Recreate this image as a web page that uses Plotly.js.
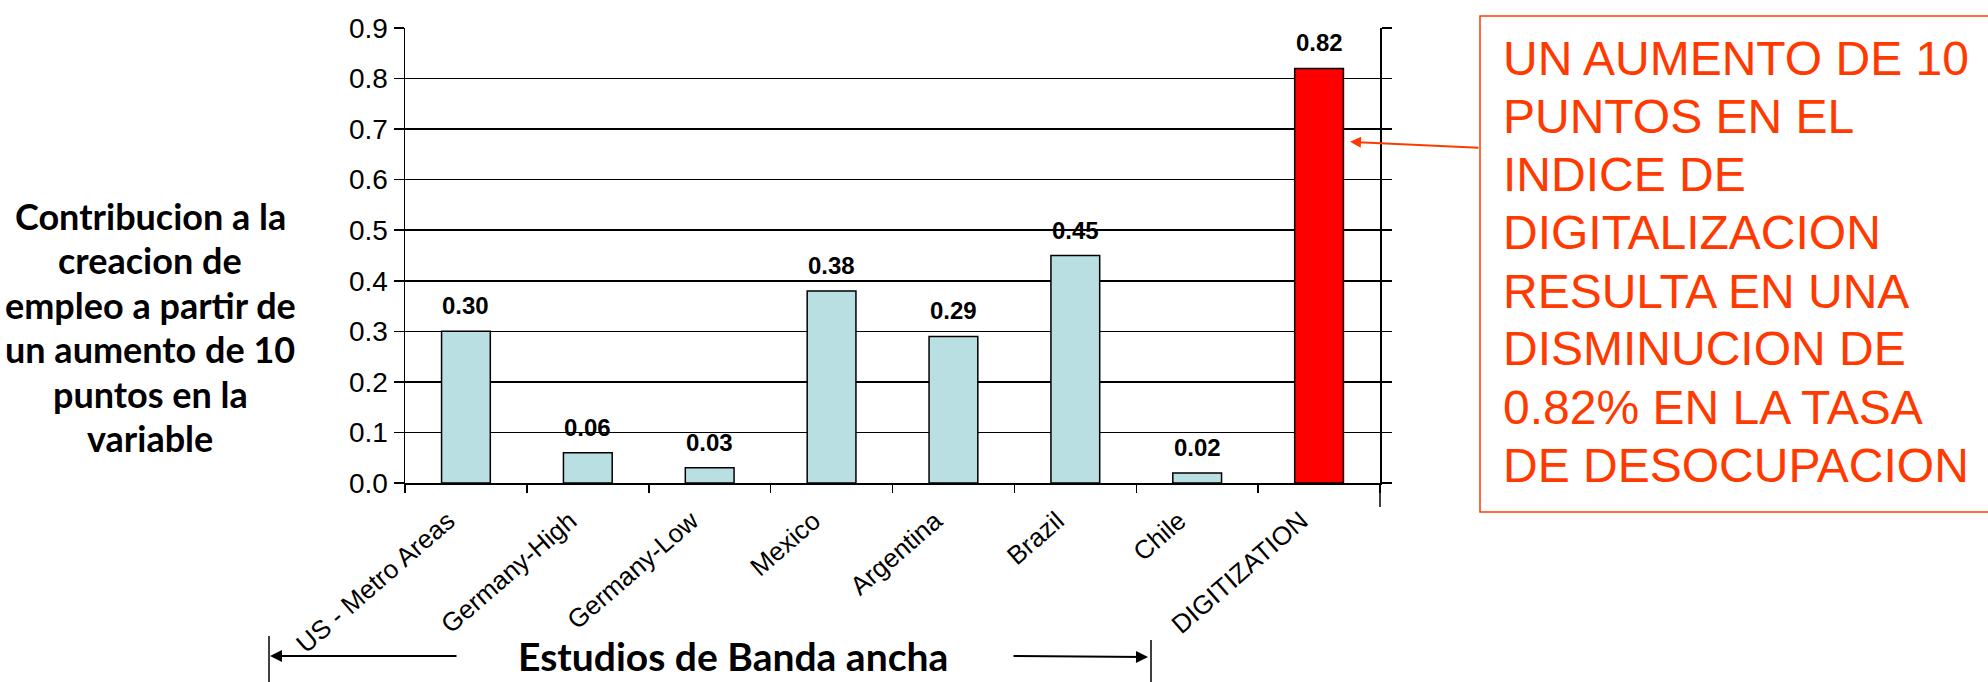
<!DOCTYPE html>
<html>
<head>
<meta charset="utf-8">
<script src="https://cdn.plot.ly/plotly-3.0.1.min.js"></script>
<style>html,body{margin:0;padding:0;background:#fff;}#chart{width:1988px;height:682px;}</style>
</head>
<body>
<div id="chart"></div>
<script>
const categories = ["US - Metro Areas", "Germany-High", "Germany-Low", "Mexico", "Argentina", "Brazil", "Chile", "DIGITIZATION"];
const values = [0.30, 0.06, 0.03, 0.38, 0.29, 0.45, 0.02, 0.82];
const barColors = ["#B9DFE2", "#B9DFE2", "#B9DFE2", "#B9DFE2", "#B9DFE2", "#B9DFE2", "#B9DFE2", "#FF0000"];
const yTitleLines = ["Contribucion a la", "creacion de", "empleo a partir de", "un aumento de 10", "puntos en la", "variable"];
const xTitle = "Estudios de Banda ancha";
const calloutLines = ["UN AUMENTO DE 10", "PUNTOS EN EL", "INDICE DE", "DIGITALIZACION", "RESULTA EN UNA", "DISMINUCION DE", "0.82% EN LA TASA", "DE DESOCUPACION"];

const chartFont = "'Liberation Sans', Arial, sans-serif";
const slideFont = "Lato, 'Open Sans', sans-serif";
const orange = "#FF3A00";

// plot area in pixels (for converting slide-level positions to paper coords)
const PL = 405, PR = 1380, PT = 28, PB = 483;
const px = v => (v - PL) / (PR - PL);
const py = v => (PB - v) / (PB - PT);

const trace = {
  type: "bar",
  x: categories,
  y: values,
  marker: { color: barColors, line: { color: "#000", width: 1.5 } },
  hoverinfo: "skip"
};

const valueLabels = categories.map((c, i) => ({
  x: c, y: values[i], xref: "x", yref: "y",
  text: "<b>" + values[i].toFixed(2) + "</b>",
  showarrow: false, yanchor: "bottom", yshift: 10,
  font: { family: chartFont, size: 24, color: "#000" }
}));

const yTitle = yTitleLines.map((t, i) => ({
  xref: "paper", yref: "paper", x: px(150), y: py(216 + i * 44.4),
  xanchor: "center", yanchor: "middle", text: "<b>" + t + "</b>", showarrow: false,
  font: { family: slideFont, size: 36, color: "#000" }
}));

const callout = calloutLines.map((t, i) => ({
  xref: "paper", yref: "paper", x: px(1501), y: py(59 + i * 58),
  xanchor: "left", yanchor: "middle", text: t, showarrow: false,
  font: { family: chartFont, size: 48, color: orange }
}));

const annotations = valueLabels.concat(yTitle, callout, [
  { xref: "paper", yref: "paper", x: px(733), y: py(656), xanchor: "center", yanchor: "middle",
    text: "<b>" + xTitle + "</b>", showarrow: false,
    font: { family: slideFont, size: 39, color: "#000" } },
  { xref: "paper", yref: "paper", x: px(270), y: py(656), text: "", showarrow: true,
    axref: "pixel", ayref: "pixel", ax: 188, ay: 0, arrowhead: 2, arrowsize: 1.2, arrowwidth: 2, arrowcolor: "#000" },
  { xref: "paper", yref: "paper", x: px(1148), y: py(657), text: "", showarrow: true,
    axref: "pixel", ayref: "pixel", ax: -136, ay: -1, arrowhead: 2, arrowsize: 1.2, arrowwidth: 2, arrowcolor: "#000" },
  { xref: "paper", yref: "y", x: px(1350), y: 0.675, text: "", showarrow: true,
    axref: "pixel", ayref: "pixel", ax: 130, ay: 6, arrowhead: 2, arrowsize: 1.1, arrowwidth: 2, arrowcolor: orange }
]);

const shapes = [
  { type: "line", xref: "paper", yref: "paper", x0: 1, x1: 1, y0: py(507), y1: 0, line: { color: "#000", width: 1.5 } },
  { type: "line", xref: "paper", yref: "paper", x0: px(269), x1: px(269), y0: py(636), y1: py(684), line: { color: "#000", width: 1.5 } },
  { type: "line", xref: "paper", yref: "paper", x0: px(1151), x1: px(1151), y0: py(640), y1: py(684), line: { color: "#000", width: 1.5 } },
  { type: "rect", xref: "paper", yref: "paper", x0: px(1480), x1: px(2100), y0: py(512), y1: py(16), line: { color: orange, width: 1.5 }, fillcolor: "rgba(0,0,0,0)" }
];

const layout = {
  width: 1988, height: 682,
  margin: { l: PL, r: 1988 - PR, t: PT, b: 682 - PB, pad: 0 },
  paper_bgcolor: "#fff", plot_bgcolor: "#fff",
  showlegend: false,
  bargap: 0.6,
  font: { family: chartFont, color: "#000" },
  xaxis: {
    type: "category", tickangle: -41, tickson: "boundaries",
    range: [-0.5, categories.length - 0.5],
    ticks: "outside", ticklen: 8, tickwidth: 1.5, tickcolor: "#000",
    ticklabelshift: -18, ticklabelstandoff: 11,
    showline: true, linecolor: "#000", linewidth: 1.5,
    showgrid: false, automargin: false,
    tickfont: { family: chartFont, size: 26, color: "#000" }
  },
  yaxis: {
    range: [0, 0.9], dtick: 0.1, tickformat: ".1f",
    ticks: "outside", ticklen: 10, tickwidth: 1.5, tickcolor: "#000",
    showline: true, linecolor: "#000", linewidth: 1.5, mirror: "ticks",
    showgrid: true, gridcolor: "#000", gridwidth: 1.5,
    zeroline: false, automargin: false,
    tickfont: { family: chartFont, size: 28, color: "#000" }
  },
  annotations: annotations,
  shapes: shapes
};

Plotly.newPlot("chart", [trace], layout, { staticPlot: true, displayModeBar: false });
</script>
</body>
</html>
